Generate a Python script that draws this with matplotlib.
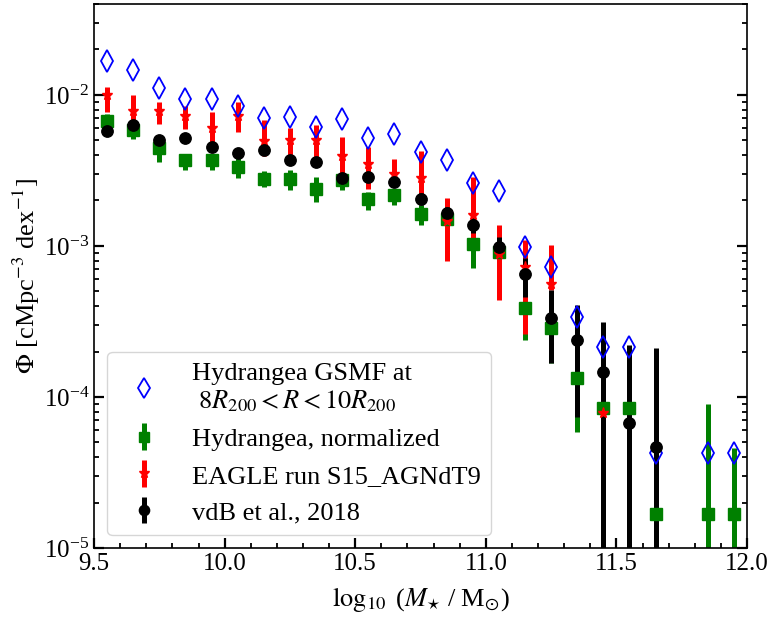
import numpy as np
import matplotlib
matplotlib.use('Agg')
import matplotlib.pyplot as plt
from matplotlib.ticker import MultipleLocator

plt.rcParams['font.family'] = 'serif'
plt.rcParams['font.serif'] = ['Liberation Serif', 'DejaVu Serif']
plt.rcParams['mathtext.fontset'] = 'stix'

# bin centres, log10 M*/Msun
x_gsmf = [9.55, 9.65, 9.75, 9.85, 9.95, 10.05, 10.15, 10.25, 10.35, 10.45, 10.55,
          10.65, 10.75, 10.85, 10.95, 11.05, 11.15, 11.25, 11.35, 11.45, 11.55,
          11.65, 11.85, 11.95]

# Hydrangea GSMF at 8R200<R<10R200 (open diamonds)
phi_gsmf = [1.69e-2, 1.46e-2, 1.12e-2, 9.37e-3, 9.45e-3, 8.46e-3, 7.07e-3, 7.12e-3,
            6.11e-3, 6.90e-3, 5.21e-3, 5.49e-3, 4.17e-3, 3.71e-3, 2.60e-3, 2.31e-3,
            9.89e-4, 7.22e-4, 3.40e-4, 2.13e-4, 2.13e-4, 4.24e-5, 4.24e-5, 4.24e-5]

# Hydrangea, normalized (green squares)
phi_norm = [6.75e-3, 5.82e-3, 4.44e-3, 3.71e-3, 3.71e-3, 3.35e-3, 2.76e-3, 2.79e-3,
            2.39e-3, 2.72e-3, 2.05e-3, 2.16e-3, 1.62e-3, 1.51e-3, 1.03e-3, 9.17e-4,
            3.87e-4, 2.85e-4, 1.34e-4, 8.42e-5, 8.42e-5, 1.68e-5, 1.68e-5, 1.68e-5]
norm_lo = [6.05e-3, 5.11e-3, 3.62e-3, 3.19e-3, 3.19e-3, 2.81e-3, 2.47e-3, 2.35e-3,
           1.95e-3, 2.35e-3, 1.73e-3, 1.87e-3, 1.37e-3, 1.36e-3, 7.12e-4, 7.83e-4,
           2.39e-4, 1.68e-4, 5.89e-5, 4.0e-5, 4.0e-5, 1e-6, 1e-6, 1e-6]
norm_hi = [7.48e-3, 6.66e-3, 4.90e-3, 4.05e-3, 4.05e-3, 3.81e-3, 3.15e-3, 3.19e-3,
           2.88e-3, 2.95e-3, 2.29e-3, 2.37e-3, 1.87e-3, 1.65e-3, 1.12e-3, 1.05e-3,
           4.39e-4, 3.34e-4, 1.76e-4, 1.2e-4, 1.2e-4, 4.0e-5, 8.99e-5, 4.6e-5]

# EAGLE run S15_AGNdT9 (red stars)
x_eagle = [9.55, 9.65, 9.75, 9.85, 9.95, 10.05, 10.15, 10.25, 10.35, 10.45, 10.55,
           10.65, 10.75, 10.85, 10.95, 11.05, 11.15, 11.25, 11.45]
phi_eagle = [1.00e-2, 7.77e-3, 7.77e-3, 7.23e-3, 6.02e-3, 7.23e-3, 4.97e-3, 5.06e-3,
             5.06e-3, 3.94e-3, 3.47e-3, 3.00e-3, 2.80e-3, 1.46e-3, 1.60e-3, 8.79e-4,
             7.29e-4, 5.58e-4, 7.87e-5]
eagle_lo = [7.75e-3, 6.53e-3, 6.38e-3, 5.96e-3, 4.85e-3, 5.69e-3, 3.94e-3, 4.01e-3,
            3.90e-3, 2.78e-3, 2.40e-3, 2.47e-3, 1.96e-3, 7.99e-4, 9.70e-4, 4.39e-4,
            2.61e-4, 5.11e-4, 7.87e-5]
eagle_hi = [1.135e-2, 1.0e-2, 9.03e-3, 8.46e-3, 7.72e-3, 9.03e-3, 6.83e-3, 6.05e-3,
            6.33e-3, 5.25e-3, 4.49e-3, 3.77e-3, 4.26e-3, 2.07e-3, 2.88e-3, 1.38e-3,
            1.10e-3, 1.02e-3, 7.87e-5]

# vdB et al. 2018 (black circles)
x_vdb = [9.55, 9.65, 9.75, 9.85, 9.95, 10.05, 10.15, 10.25, 10.35, 10.45, 10.55,
         10.65, 10.75, 10.85, 10.95, 11.05, 11.15, 11.25, 11.35, 11.45, 11.55, 11.65]
phi_vdb = [5.80e-3, 6.35e-3, 5.04e-3, 5.19e-3, 4.55e-3, 4.15e-3, 4.32e-3, 3.71e-3,
           3.62e-3, 2.80e-3, 2.86e-3, 2.67e-3, 2.05e-3, 1.66e-3, 1.38e-3, 9.80e-4,
           6.53e-4, 3.34e-4, 2.40e-4, 1.47e-4, 6.70e-5, 4.69e-5]
vdb_lo = [5.46e-3, 5.97e-3, 4.74e-3, 4.88e-3, 4.28e-3, 3.90e-3, 4.06e-3, 3.49e-3,
          3.40e-3, 2.60e-3, 2.66e-3, 2.48e-3, 1.87e-3, 1.51e-3, 1.22e-3, 8.29e-4,
          4.61e-4, 1.67e-4, 7.40e-5, 1e-6, 1e-6, 1e-6]
vdb_hi = [6.17e-3, 6.75e-3, 5.36e-3, 5.52e-3, 4.84e-3, 4.41e-3, 4.59e-3, 3.94e-3,
          3.85e-3, 3.01e-3, 3.07e-3, 2.87e-3, 2.25e-3, 1.82e-3, 1.56e-3, 1.15e-3,
          8.29e-4, 5.11e-4, 4.07e-4, 3.12e-4, 2.21e-4, 2.12e-4]


def errs(phi, lo, hi):
    phi = np.array(phi)
    return [phi - np.array(lo), np.array(hi) - phi]


fig = plt.figure(figsize=(7.72, 6.18), dpi=100)
ax = fig.add_axes([0.1218, 0.1133, 0.8458, 0.8802])

eb_norm = ax.errorbar(x_gsmf, phi_norm, yerr=errs(phi_norm, norm_lo, norm_hi), fmt='s',
                      color='green', ms=8.5, elinewidth=3.6, capsize=0,
                      label='Hydrangea, normalized')
eb_eagle = ax.errorbar(x_eagle, phi_eagle, yerr=errs(phi_eagle, eagle_lo, eagle_hi), fmt='*',
                       color='red', ms=8, elinewidth=3.6, capsize=0,
                       label='EAGLE run S15_AGNdT9')
eb_vdb = ax.errorbar(x_vdb, phi_vdb, yerr=errs(phi_vdb, vdb_lo, vdb_hi), fmt='o',
                     color='black', ms=8.2, elinewidth=3.6, capsize=0,
                     label='vdB et al., 2018')
gsmf, = ax.plot(x_gsmf, phi_gsmf, 'd', mfc='none', mec='blue', mew=1.3, ms=11,
                label='Hydrangea GSMF at\n $8R_{200} < R < 10R_{200}$', zorder=4.2)

# bars below, markers on top
for i, eb in enumerate([eb_norm, eb_eagle, eb_vdb]):
    for bc in eb.lines[2]:
        bc.set_zorder(2 + 0.1 * i)
eb_norm.lines[0].set_zorder(4.0)
eb_eagle.lines[0].set_zorder(4.1)
eb_vdb.lines[0].set_zorder(4.3)

ax.set_yscale('log')
ax.set_xlim(9.5, 12.0)
ax.set_ylim(1e-5, 4e-2)
ax.xaxis.set_major_locator(MultipleLocator(0.5))
ax.xaxis.set_minor_locator(MultipleLocator(0.1))
ax.tick_params(which='both', direction='in', right=True, top=False, labelsize=18)
ax.tick_params(which='major', length=7.5, width=1.6)
ax.tick_params(which='minor', length=3.8, width=1.3)
for s in ax.spines.values():
    s.set_linewidth(1.2)

ax.set_xlabel(r'$\log_{10}$ ($M_{\star}$ / M$_{\odot}$)', fontsize=19, labelpad=7)
ax.set_ylabel(r'$\Phi$ [cMpc$^{-3}$ dex$^{-1}$]', fontsize=19, labelpad=1)

ax.legend(handles=[gsmf, eb_norm, eb_eagle, eb_vdb], loc='lower left', fontsize=19,
          markerscale=0.9)

plt.savefig('out.png', dpi=100)
